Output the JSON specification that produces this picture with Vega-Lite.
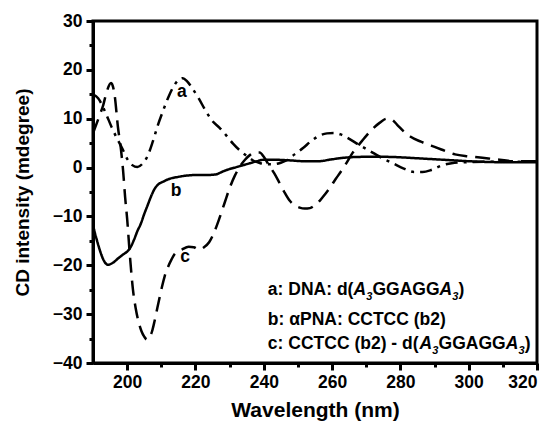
{
  "$schema": "https://vega.github.io/schema/vega-lite/v6.json",
  "width": 444,
  "height": 342,
  "autosize": "none",
  "padding": {"left": 93, "top": 21, "right": 16, "bottom": 63},
  "background": "white",
  "config": {
    "view": {"stroke": "black", "strokeWidth": 3},
    "font": "Liberation Sans"
  },
  "datasets": {
    "curves": [
      {"s": "a", "wl": 190, "cd": 15}, {"s": "a", "wl": 191.5, "cd": 14.2}, {"s": "a", "wl": 193.5, "cd": 11.5}, {"s": "a", "wl": 195.5, "cd": 8.2}, {"s": "a", "wl": 197, "cd": 6}, {"s": "a", "wl": 198.5, "cd": 4}, {"s": "a", "wl": 200, "cd": 1.8}, {"s": "a", "wl": 201.5, "cd": 0.5}, {"s": "a", "wl": 203, "cd": 0.1}, {"s": "a", "wl": 204.5, "cd": 0.8}, {"s": "a", "wl": 206, "cd": 2.4}, {"s": "a", "wl": 207.5, "cd": 5.3}, {"s": "a", "wl": 209, "cd": 8.7}, {"s": "a", "wl": 210.5, "cd": 11.6}, {"s": "a", "wl": 212, "cd": 14.3}, {"s": "a", "wl": 213.5, "cd": 16.5}, {"s": "a", "wl": 215, "cd": 17.9}, {"s": "a", "wl": 216.3, "cd": 18.3}, {"s": "a", "wl": 217.5, "cd": 17.7}, {"s": "a", "wl": 219, "cd": 16.3}, {"s": "a", "wl": 221, "cd": 14.1}, {"s": "a", "wl": 223, "cd": 11.6}, {"s": "a", "wl": 225, "cd": 9.5}, {"s": "a", "wl": 227, "cd": 8.2}, {"s": "a", "wl": 229, "cd": 6.6}, {"s": "a", "wl": 231, "cd": 4.9}, {"s": "a", "wl": 233, "cd": 3.5}, {"s": "a", "wl": 235, "cd": 2.4}, {"s": "a", "wl": 237, "cd": 1.4}, {"s": "a", "wl": 239, "cd": 0.9}, {"s": "a", "wl": 241, "cd": 0.7}, {"s": "a", "wl": 243, "cd": 0.7}, {"s": "a", "wl": 245, "cd": 1}, {"s": "a", "wl": 247, "cd": 1.6}, {"s": "a", "wl": 249, "cd": 2.7}, {"s": "a", "wl": 251.5, "cd": 4}, {"s": "a", "wl": 254, "cd": 5.5}, {"s": "a", "wl": 256.5, "cd": 6.6}, {"s": "a", "wl": 258.5, "cd": 7}, {"s": "a", "wl": 260.5, "cd": 7.1}, {"s": "a", "wl": 262.5, "cd": 6.8}, {"s": "a", "wl": 264.5, "cd": 6.1}, {"s": "a", "wl": 268, "cd": 4.6}, {"s": "a", "wl": 272, "cd": 3}, {"s": "a", "wl": 275, "cd": 1.8}, {"s": "a", "wl": 278, "cd": 0.8}, {"s": "a", "wl": 281, "cd": -0.2}, {"s": "a", "wl": 284, "cd": -0.9}, {"s": "a", "wl": 286.5, "cd": -0.9}, {"s": "a", "wl": 289, "cd": -0.5}, {"s": "a", "wl": 292, "cd": 0.4}, {"s": "a", "wl": 295, "cd": 0.9}, {"s": "a", "wl": 299, "cd": 1.1}, {"s": "a", "wl": 305, "cd": 1.2}, {"s": "a", "wl": 310, "cd": 1.2}, {"s": "a", "wl": 320, "cd": 1.2},
      {"s": "b", "wl": 190, "cd": -11.8}, {"s": "b", "wl": 191, "cd": -14.5}, {"s": "b", "wl": 192, "cd": -16.9}, {"s": "b", "wl": 193, "cd": -18.8}, {"s": "b", "wl": 194.4, "cd": -19.9}, {"s": "b", "wl": 196, "cd": -19.4}, {"s": "b", "wl": 197.5, "cd": -18.5}, {"s": "b", "wl": 199, "cd": -17.7}, {"s": "b", "wl": 200, "cd": -17.2}, {"s": "b", "wl": 201, "cd": -16.3}, {"s": "b", "wl": 202, "cd": -14.8}, {"s": "b", "wl": 203, "cd": -13}, {"s": "b", "wl": 204, "cd": -11.5}, {"s": "b", "wl": 205, "cd": -9.5}, {"s": "b", "wl": 206, "cd": -7.7}, {"s": "b", "wl": 207, "cd": -5.9}, {"s": "b", "wl": 208, "cd": -4.4}, {"s": "b", "wl": 209, "cd": -3.5}, {"s": "b", "wl": 210.5, "cd": -2.9}, {"s": "b", "wl": 212, "cd": -2.4}, {"s": "b", "wl": 215, "cd": -1.9}, {"s": "b", "wl": 218, "cd": -1.6}, {"s": "b", "wl": 221, "cd": -1.5}, {"s": "b", "wl": 224, "cd": -1.5}, {"s": "b", "wl": 226, "cd": -1.4}, {"s": "b", "wl": 228, "cd": -0.8}, {"s": "b", "wl": 230, "cd": -0.3}, {"s": "b", "wl": 232, "cd": 0.1}, {"s": "b", "wl": 234, "cd": 0.5}, {"s": "b", "wl": 236, "cd": 0.9}, {"s": "b", "wl": 238, "cd": 1.3}, {"s": "b", "wl": 240, "cd": 1.6}, {"s": "b", "wl": 243, "cd": 1.6}, {"s": "b", "wl": 247, "cd": 1.5}, {"s": "b", "wl": 252, "cd": 1.3}, {"s": "b", "wl": 256, "cd": 1.3}, {"s": "b", "wl": 260, "cd": 1.7}, {"s": "b", "wl": 265, "cd": 2.1}, {"s": "b", "wl": 270, "cd": 2.2}, {"s": "b", "wl": 275, "cd": 2.2}, {"s": "b", "wl": 280, "cd": 2.1}, {"s": "b", "wl": 285, "cd": 1.9}, {"s": "b", "wl": 290, "cd": 1.7}, {"s": "b", "wl": 295, "cd": 1.5}, {"s": "b", "wl": 300, "cd": 1.3}, {"s": "b", "wl": 310, "cd": 1.1}, {"s": "b", "wl": 320, "cd": 1.1},
      {"s": "c", "wl": 190, "cd": 7}, {"s": "c", "wl": 192, "cd": 10.8}, {"s": "c", "wl": 193, "cd": 12.8}, {"s": "c", "wl": 194, "cd": 15.5}, {"s": "c", "wl": 195.3, "cd": 17.3}, {"s": "c", "wl": 196.3, "cd": 15}, {"s": "c", "wl": 197.3, "cd": 8.3}, {"s": "c", "wl": 198.2, "cd": 3.6}, {"s": "c", "wl": 198.8, "cd": -0.5}, {"s": "c", "wl": 199.4, "cd": -6}, {"s": "c", "wl": 200, "cd": -10.5}, {"s": "c", "wl": 200.8, "cd": -18}, {"s": "c", "wl": 201.7, "cd": -25}, {"s": "c", "wl": 202.5, "cd": -28.8}, {"s": "c", "wl": 203.2, "cd": -31.2}, {"s": "c", "wl": 204.2, "cd": -33.5}, {"s": "c", "wl": 205, "cd": -34.6}, {"s": "c", "wl": 205.8, "cd": -35.2}, {"s": "c", "wl": 206.5, "cd": -34.8}, {"s": "c", "wl": 207.3, "cd": -33.5}, {"s": "c", "wl": 208, "cd": -31.5}, {"s": "c", "wl": 208.7, "cd": -29.2}, {"s": "c", "wl": 209.5, "cd": -26.6}, {"s": "c", "wl": 210.2, "cd": -24.4}, {"s": "c", "wl": 211, "cd": -22.2}, {"s": "c", "wl": 212, "cd": -20.3}, {"s": "c", "wl": 213, "cd": -18.8}, {"s": "c", "wl": 214, "cd": -17.6}, {"s": "c", "wl": 216, "cd": -16.8}, {"s": "c", "wl": 218, "cd": -16.2}, {"s": "c", "wl": 219.5, "cd": -16.3}, {"s": "c", "wl": 221, "cd": -16.8}, {"s": "c", "wl": 222.5, "cd": -16.3}, {"s": "c", "wl": 224, "cd": -15.3}, {"s": "c", "wl": 225.5, "cd": -13.2}, {"s": "c", "wl": 227, "cd": -10.4}, {"s": "c", "wl": 228.5, "cd": -7.3}, {"s": "c", "wl": 230, "cd": -4.2}, {"s": "c", "wl": 231.5, "cd": -1.7}, {"s": "c", "wl": 233, "cd": 0.2}, {"s": "c", "wl": 234.5, "cd": 1.6}, {"s": "c", "wl": 236, "cd": 2.6}, {"s": "c", "wl": 237.5, "cd": 3.1}, {"s": "c", "wl": 238.8, "cd": 3.1}, {"s": "c", "wl": 240, "cd": 2.2}, {"s": "c", "wl": 241.5, "cd": 0.5}, {"s": "c", "wl": 243, "cd": -1.1}, {"s": "c", "wl": 244.5, "cd": -3}, {"s": "c", "wl": 246, "cd": -5}, {"s": "c", "wl": 247.5, "cd": -6.7}, {"s": "c", "wl": 249, "cd": -7.7}, {"s": "c", "wl": 250.5, "cd": -8.2}, {"s": "c", "wl": 252, "cd": -8.4}, {"s": "c", "wl": 253.5, "cd": -8.3}, {"s": "c", "wl": 255, "cd": -7.7}, {"s": "c", "wl": 256.5, "cd": -6.7}, {"s": "c", "wl": 258, "cd": -5.4}, {"s": "c", "wl": 259.5, "cd": -4}, {"s": "c", "wl": 261, "cd": -2.4}, {"s": "c", "wl": 262.5, "cd": -0.9}, {"s": "c", "wl": 264, "cd": 0.7}, {"s": "c", "wl": 266, "cd": 3}, {"s": "c", "wl": 268, "cd": 4.8}, {"s": "c", "wl": 270, "cd": 6.5}, {"s": "c", "wl": 272, "cd": 8}, {"s": "c", "wl": 274, "cd": 9.2}, {"s": "c", "wl": 276, "cd": 10}, {"s": "c", "wl": 277.5, "cd": 9.8}, {"s": "c", "wl": 279, "cd": 8.8}, {"s": "c", "wl": 281, "cd": 7.4}, {"s": "c", "wl": 283, "cd": 6.3}, {"s": "c", "wl": 286, "cd": 5.3}, {"s": "c", "wl": 289, "cd": 4.5}, {"s": "c", "wl": 292, "cd": 3.7}, {"s": "c", "wl": 296, "cd": 2.7}, {"s": "c", "wl": 300, "cd": 2.3}, {"s": "c", "wl": 304, "cd": 2}, {"s": "c", "wl": 308, "cd": 1.7}, {"s": "c", "wl": 313, "cd": 1.3}, {"s": "c", "wl": 320, "cd": 1.3}
    ],
    "curveLabels": [
      {"wl": 216, "cd": 15.5, "t": "a"},
      {"wl": 214.3, "cd": -4.8, "t": "b"},
      {"wl": 217, "cd": -18.3, "t": "c"}
    ],
    "legendPlain": [
      {"wl": 241.2, "cd": -25.05, "t": "a: DNA: d("},
      {"wl": 271.82, "cd": -25.05, "t": "GGAGG"},
      {"wl": 297.05, "cd": -25.05, "t": ")"},
      {"wl": 241.2, "cd": -31.2, "t": "b: αPNA: CCTCC (b2)"},
      {"wl": 241.2, "cd": -36.1, "t": "c: CCTCC (b2) - d("},
      {"wl": 291.18, "cd": -36.1, "t": "GGAGG"},
      {"wl": 316.41, "cd": -36.1, "t": ")"}
    ],
    "legendItalic": [
      {"wl": 266.25, "cd": -25.05, "t": "A"},
      {"wl": 291.48, "cd": -25.05, "t": "A"},
      {"wl": 285.61, "cd": -36.1, "t": "A"},
      {"wl": 310.84, "cd": -36.1, "t": "A"}
    ],
    "legendSub": [
      {"wl": 269.97, "cd": -25.05, "t": "3"},
      {"wl": 295.2, "cd": -25.05, "t": "3"},
      {"wl": 289.33, "cd": -36.1, "t": "3"},
      {"wl": 314.56, "cd": -36.1, "t": "3"}
    ]
  },
  "resolve": {"axis": {"x": "independent", "y": "independent"}},
  "layer": [
    {
      "data": {"name": "curves"},
      "mark": {"type": "line", "interpolate": "monotone", "strokeWidth": 2.5, "color": "black", "clip": true},
      "encoding": {
        "x": {"field": "wl", "type": "quantitative", "scale": {"domain": [190, 320], "nice": false, "zero": false},
          "axis": {"orient": "bottom", "values": [200, 220, 240, 260, 280, 300, 320], "grid": false, "domain": true, "domainColor": "black", "domainWidth": 3, "ticks": true, "tickColor": "black", "tickWidth": 3, "tickSize": 7, "labelPadding": 3, "labelFont": "Liberation Sans", "labelFontSize": 17.5, "labelFontWeight": "bold", "labelColor": "black", "title": "Wavelength (nm)", "titleFont": "Liberation Sans", "titleFontSize": 21, "titleFontWeight": "bold", "titleColor": "black", "titlePadding": 9}},
        "y": {"field": "cd", "type": "quantitative", "scale": {"domain": [-40, 30], "nice": false, "zero": false},
          "axis": {"orient": "left", "values": [-40, -30, -20, -10, 0, 10, 20, 30], "grid": false, "domain": true, "domainColor": "black", "domainWidth": 3, "ticks": true, "tickColor": "black", "tickWidth": 3, "tickSize": 7, "labelPadding": 4, "labelFont": "Liberation Sans", "labelFontSize": 17.5, "labelFontWeight": "bold", "labelColor": "black", "title": "CD intensity (mdegree)", "titleFont": "Liberation Sans", "titleFontSize": 19, "titleFontWeight": "bold", "titleColor": "black", "titlePadding": 20}},
        "strokeDash": {"field": "s", "type": "nominal", "scale": {"domain": ["a", "b", "c"], "range": [[12, 6, 3, 6], [1, 0], [15, 8]]}, "legend": null}
      }
    },
    {
      "data": {"name": "curves"},
      "mark": {"type": "point", "opacity": 0},
      "encoding": {
        "x": {"field": "wl", "type": "quantitative", "axis": {"orient": "bottom", "values": [210, 230, 250, 270, 290, 310], "grid": false, "tickColor": "black", "tickWidth": 3, "tickSize": 4, "labels": false, "domain": false, "title": null}},
        "y": {"field": "cd", "type": "quantitative", "axis": {"orient": "left", "values": [-35, -25, -15, -5, 5, 15, 25], "grid": false, "tickColor": "black", "tickWidth": 3, "tickSize": 4, "labels": false, "domain": false, "title": null}}
      }
    },
    {
      "data": {"name": "curveLabels"},
      "mark": {"type": "text", "align": "center", "baseline": "middle", "fontSize": 17.5, "fontWeight": "bold", "font": "Liberation Sans"},
      "encoding": {
        "x": {"field": "wl", "type": "quantitative", "axis": null},
        "y": {"field": "cd", "type": "quantitative", "axis": null},
        "text": {"field": "t"}
      }
    },
    {
      "data": {"name": "legendPlain"},
      "mark": {"type": "text", "align": "left", "baseline": "middle", "fontSize": 17.5, "fontWeight": "bold", "font": "Liberation Sans"},
      "encoding": {
        "x": {"field": "wl", "type": "quantitative", "axis": null},
        "y": {"field": "cd", "type": "quantitative", "axis": null},
        "text": {"field": "t"}
      }
    },
    {
      "data": {"name": "legendItalic"},
      "mark": {"type": "text", "align": "left", "baseline": "middle", "fontSize": 17.5, "fontWeight": "bold", "fontStyle": "italic", "font": "Liberation Sans"},
      "encoding": {
        "x": {"field": "wl", "type": "quantitative", "axis": null},
        "y": {"field": "cd", "type": "quantitative", "axis": null},
        "text": {"field": "t"}
      }
    },
    {
      "data": {"name": "legendSub"},
      "mark": {"type": "text", "align": "left", "baseline": "middle", "dy": 7, "fontSize": 11, "fontWeight": "bold", "fontStyle": "italic", "font": "Liberation Sans"},
      "encoding": {
        "x": {"field": "wl", "type": "quantitative", "axis": null},
        "y": {"field": "cd", "type": "quantitative", "axis": null},
        "text": {"field": "t"}
      }
    }
  ]
}
